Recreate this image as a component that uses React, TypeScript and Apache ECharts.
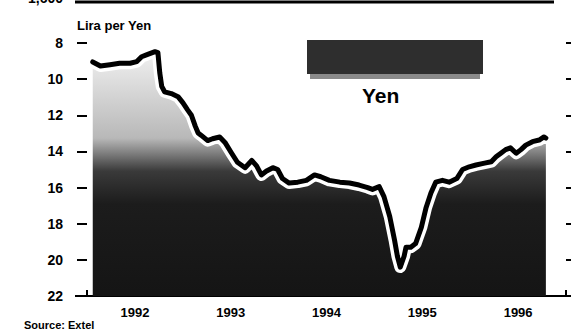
import React, { useEffect, useRef } from "react";
import * as echarts from "echarts";

// Decimal years and lira per yen
const years = [
  1992.06, 1992.14, 1992.24, 1992.34, 1992.45, 1992.52, 1992.57, 1992.62, 1992.71, 1992.74,
  1992.76, 1992.78, 1992.81, 1992.88, 1992.95, 1993.0, 1993.05, 1993.09, 1993.13, 1993.16,
  1993.19, 1993.26, 1993.31, 1993.385, 1993.44, 1993.51, 1993.57, 1993.65, 1993.72, 1993.77,
  1993.82, 1993.87, 1993.94, 1993.99, 1994.04, 1994.11, 1994.2, 1994.29, 1994.375, 1994.44,
  1994.53, 1994.64, 1994.74, 1994.84, 1994.93, 1994.98, 1995.05, 1995.1, 1995.16, 1995.21,
  1995.24, 1995.27, 1995.31, 1995.33, 1995.38, 1995.43, 1995.49, 1995.54, 1995.59, 1995.64,
  1995.71, 1995.78, 1995.86, 1995.92, 1995.99, 1996.06, 1996.15, 1996.22, 1996.27, 1996.32,
  1996.37, 1996.42, 1996.48, 1996.53, 1996.58, 1996.65, 1996.72, 1996.77, 1996.79,
];
const liraPerYen = [
  9.05, 9.27, 9.2, 9.12, 9.12, 9.03, 8.76, 8.66, 8.48, 8.53,
  9.67, 10.4, 10.7, 10.8, 10.97, 11.3, 11.7, 12.0, 12.6, 12.98,
  13.1, 13.4, 13.3, 13.2, 13.5, 14.1, 14.6, 14.9, 14.5, 14.8,
  15.3, 15.1, 14.9, 15.0, 15.5, 15.75, 15.7, 15.6, 15.3, 15.4,
  15.6, 15.7, 15.75, 15.86, 16.0, 16.1, 15.95, 16.5, 17.6, 18.9,
  19.8, 20.4, 19.8, 19.3, 19.3, 19.1, 18.2, 17.1, 16.3, 15.7,
  15.6, 15.7, 15.5, 15.0, 14.85, 14.75, 14.65, 14.57, 14.3, 14.1,
  13.9, 13.8, 14.1, 13.9, 13.65, 13.46, 13.37, 13.2, 13.26,
];
const yearLabels = [1992, 1993, 1994, 1995, 1996];
const yearBounds = [1992, 1993, 1994, 1995, 1996, 1997];

const FONT = "Liberation Sans, Arial, sans-serif";

export default function App() {
  const ref = useRef<HTMLDivElement>(null);
  useEffect(() => {
    if (!ref.current) return;
    const chart = echarts.init(ref.current, null, { renderer: "svg" });
    const data = years.map((t, i) => [t, liraPerYen[i]]);
    const fill = new echarts.graphic.LinearGradient(
      0, 0, 0, 329,
      [
        { offset: 0.15, color: "#f2f2f2" },
        { offset: 0.42, color: "#b8b8b8" },
        { offset: 0.52, color: "#3a3a3a" },
        { offset: 0.62, color: "#1c1c1c" },
        { offset: 1, color: "#121212" },
      ],
      true
    );
    chart.setOption({
      animation: false,
      backgroundColor: "#fff",
      grid: { left: 87, right: 5, top: 43, bottom: 33 },
      xAxis: {
        type: "value",
        min: 1992,
        max: 1997,
        axisLine: { show: true, lineStyle: { color: "#000", width: 2 } },
        axisTick: {
          show: true,
          inside: true,
          length: 6,
          customValues: yearBounds,
          lineStyle: { color: "#000", width: 2 },
        },
        axisLabel: {
          customValues: yearLabels.map((y) => y + 0.5),
          formatter: (v: number) => String(Math.floor(v)),
          color: "#000",
          fontFamily: FONT,
          fontWeight: "bold",
          fontSize: 13,
          margin: 10,
        },
        splitLine: { show: false },
      },
      yAxis: [
        {
          type: "value",
          inverse: true,
          min: 8,
          max: 22,
          interval: 2,
          axisLine: { show: false },
          axisTick: { show: true, length: 10, lineStyle: { color: "#000", width: 2 } },
          axisLabel: {
            color: "#000",
            fontFamily: FONT,
            fontWeight: "bold",
            fontSize: 14,
            margin: 24,
          },
          splitLine: { show: false },
        },
        {
          type: "value",
          position: "right",
          inverse: true,
          min: 8,
          max: 22,
          interval: 2,
          axisLine: { show: false },
          axisTick: { show: true, length: 6, lineStyle: { color: "#000", width: 2 } },
          axisLabel: { show: false },
          splitLine: { show: false },
        },
      ],
      series: [
        {
          type: "line",
          data,
          symbol: "none",
          z: 2,
          lineStyle: { color: "#fff", width: 12, cap: "round", join: "round" },
          areaStyle: { color: fill, opacity: 1, origin: "end" },
          silent: true,
        },
        {
          type: "line",
          data,
          symbol: "none",
          z: 3,
          lineStyle: { color: "#000", width: 5, cap: "round", join: "round" },
          silent: true,
        },
      ],
      graphic: [
        {
          type: "text",
          left: 28,
          top: -9,
          style: { text: "1,600", fill: "#000", font: `bold 14px ${FONT}` },
        },
        {
          type: "line",
          shape: { x1: 75, y1: 2, x2: 554, y2: 2 },
          style: { stroke: "#000", lineWidth: 3 },
        },
        {
          type: "line",
          shape: { x1: 75, y1: 296, x2: 88, y2: 296 },
          style: { stroke: "#000", lineWidth: 2 },
        },
        {
          type: "text",
          left: 77,
          top: 19,
          style: { text: "Lira per Yen", fill: "#000", font: `bold 13px ${FONT}` },
        },
        {
          type: "rect",
          shape: { x: 307, y: 40, width: 176, height: 34 },
          style: { fill: "#2e2e2e" },
          z: 10,
        },
        {
          type: "rect",
          shape: { x: 310, y: 74, width: 170, height: 5 },
          style: { fill: "#8a8a8a" },
          z: 10,
        },
        {
          type: "text",
          left: 362,
          top: 85,
          style: { text: "Yen", fill: "#000", font: `bold 21px ${FONT}` },
          z: 10,
        },
        {
          type: "text",
          left: 24,
          top: 319,
          style: { text: "Source: Extel", fill: "#000", font: `bold 11px ${FONT}` },
        },
      ],
    });
    return () => chart.dispose();
  }, []);
  return (
    <div
      ref={ref}
      style={{ position: "fixed", left: 0, top: 0, width: 571, height: 329, background: "#fff" }}
    />
  );
}
